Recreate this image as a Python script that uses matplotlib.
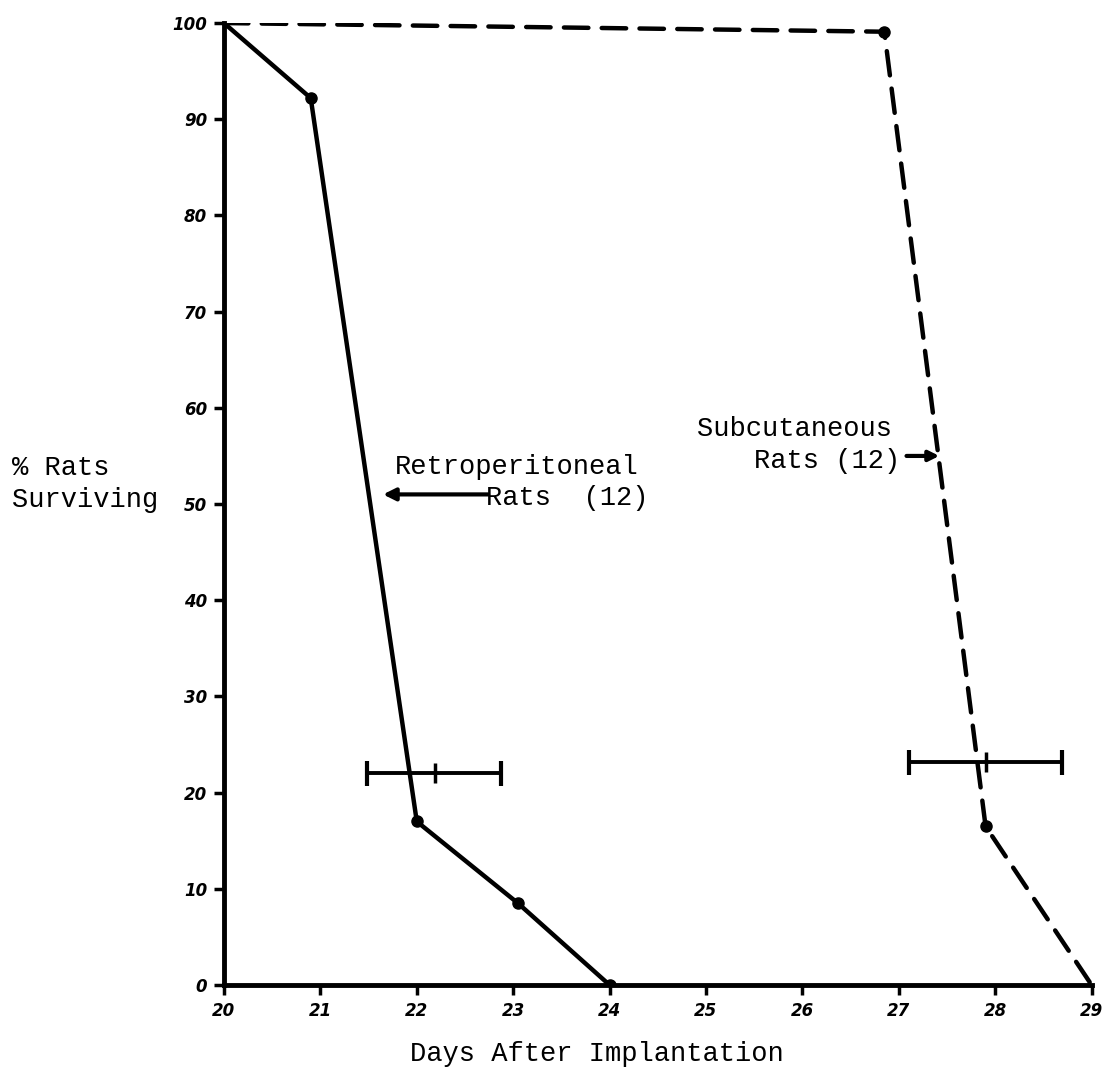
import numpy as np
import matplotlib.pyplot as plt

# survival data
retro_days = [20.0, 20.9, 22.0, 23.05, 24.0]
retro_pct = [100, 92.2, 17.0, 8.5, 0]
subq_days = [20.0, 26.85, 27.9, 29.0]
subq_pct = [100, 99.1, 16.5, 0]

# mean survival +/- range bars
retro_bar = dict(mean=22.19, lo=21.48, hi=22.87, y=22.0)
subq_bar = dict(mean=27.9, lo=27.11, hi=28.69, y=23.2)

x_ticks = [20, 21, 22, 23, 24, 25, 26, 27, 28, 29]
y_ticks = [0, 10, 20, 30, 40, 50, 60, 70, 80, 90, 100]

mono = 'Liberation Mono'

fig = plt.figure(figsize=(11.06, 10.77), dpi=100)
ax = fig.add_axes([0.2025, 0.0854, 0.7845, 0.8932])

ax.plot(retro_days, retro_pct, color='k', lw=3.2, marker='o', ms=8,
        markevery=[1, 2, 3, 4], solid_capstyle='round')
ax.plot(subq_days, subq_pct, color='k', lw=3.2, marker='o', ms=8,
        markevery=[1, 2], dashes=(5.5, 3), dash_capstyle='round')

for b in [retro_bar, subq_bar]:
    ax.errorbar([b['mean']], [b['y']],
                xerr=[[b['mean'] - b['lo']], [b['hi'] - b['mean']]],
                fmt='none', ecolor='k', elinewidth=2.8, capsize=9, capthick=3)
    ax.plot([b['mean']], [b['y']], marker='|', color='k', ms=14, mew=2.5)

ax.set_xlim(20, 29)
ax.set_ylim(0, 100)
ax.set_xticks(x_ticks)
ax.set_yticks(y_ticks)
ax.set_xticklabels([str(t) for t in x_ticks], fontsize=12, fontweight='bold',
                   style='italic')
ax.set_yticklabels([str(t) for t in y_ticks], fontsize=12, fontweight='bold',
                   style='italic')
ax.tick_params(axis='both', direction='out', length=7, width=2.5, pad=5)

for s in ['top', 'right']:
    ax.spines[s].set_visible(False)
for s in ['left', 'bottom']:
    ax.spines[s].set_linewidth(3.5)

# annotations
ax.text(21.77, 53.8, 'Retroperitoneal', family=mono, fontsize=19.5,
        va='center', ha='left')
ax.text(22.72, 50.6, 'Rats  (12)', family=mono, fontsize=19.5, va='center',
        ha='left')
ax.annotate('', xy=(21.65, 51.0), xytext=(22.74, 51.0),
            arrowprops=dict(arrowstyle='-|>', color='k', lw=3,
                            mutation_scale=18, shrinkA=0, shrinkB=0))

ax.text(24.91, 57.8, 'Subcutaneous', family=mono, fontsize=19.5, va='center',
        ha='left')
ax.text(25.5, 54.5, 'Rats (12)', family=mono, fontsize=19.5, va='center',
        ha='left')
ax.annotate('', xy=(27.42, 55.0), xytext=(27.08, 55.0),
            arrowprops=dict(arrowstyle='-|>', color='k', lw=3,
                            mutation_scale=15, shrinkA=0, shrinkB=0))

ax.set_xlabel('Days After Implantation', family=mono, fontsize=19.5)
ax.xaxis.set_label_coords(0.43, -0.058)
fig.text(0.011, 0.551, '% Rats\nSurviving', family=mono, fontsize=19.5,
         ha='left', va='center', linespacing=1.3)

fig.savefig('out.png', dpi=100)
